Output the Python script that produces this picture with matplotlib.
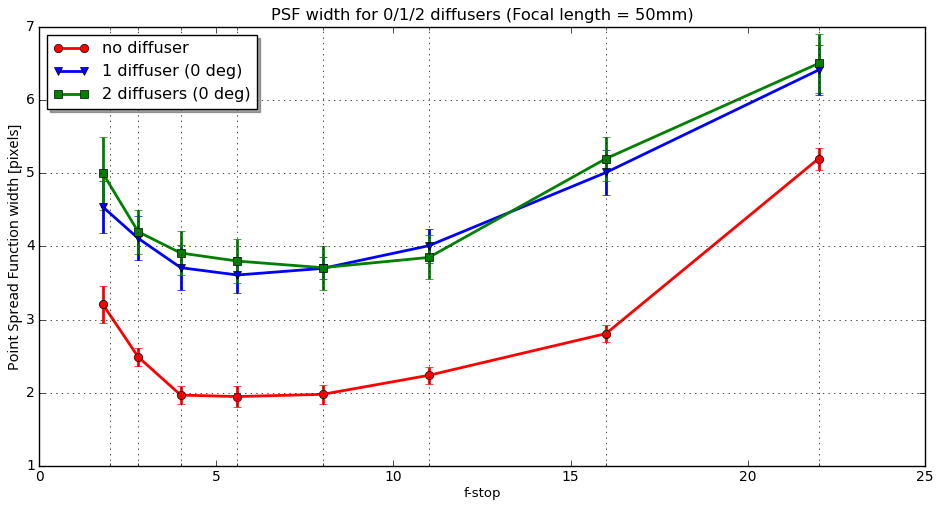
import matplotlib
matplotlib.use('Agg')
import matplotlib.pyplot as plt

# f-stops measured and where the grid lines go
fstops = [1.8, 2.8, 4, 5.6, 8, 11, 16, 22]
grid_fstops = [2, 2.8, 4, 5.6, 8, 11, 16, 22]

# PSF width [pixels] and error bars
no_diff = [3.21, 2.49, 1.97, 1.95, 1.98, 2.24, 2.81, 5.20]
no_diff_err = [0.25, 0.125, 0.12, 0.14, 0.13, 0.12, 0.12, 0.15]

one_diff = [4.54, 4.11, 3.71, 3.61, 3.70, 4.01, 5.01, 6.41]
one_diff_err = [0.35, 0.30, 0.31, 0.25, 0.15, 0.23, 0.31, 0.34]

two_diff = [5.00, 4.20, 3.91, 3.80, 3.71, 3.85, 5.20, 6.50]
two_diff_err = [0.50, 0.30, 0.30, 0.30, 0.30, 0.30, 0.30, 0.40]

plt.style.use('classic')
plt.rcParams['font.family'] = ['DejaVu Sans']

fig = plt.figure(figsize=(9.38, 5.05), dpi=100, facecolor='white')
ax = fig.add_axes([0.0416, 0.077, 0.9445, 0.870])

series = [
    (no_diff, no_diff_err, 'o-', 'red', 'no diffuser'),
    (one_diff, one_diff_err, 'v-', 'blue', '1 diffuser (0 deg)'),
    (two_diff, two_diff_err, 's-', 'green', '2 diffusers (0 deg)'),
]
handles = []
for vals, errs, fmt, col, lab in series:
    eb = ax.errorbar(fstops, vals, yerr=errs, fmt=fmt, color=col,
                     mec='black', lw=2, capsize=3, ms=6, label=lab)
    handles.append(eb[0])

ax.set_xlim(0, 25)
ax.set_ylim(1, 7)
ax.set_xticks(grid_fstops, minor=True)
ax.yaxis.grid(True, which='major')
ax.xaxis.grid(True, which='minor')
ax.xaxis.grid(False, which='major')
ax.tick_params(labelsize=10, pad=3)

ax.set_title('PSF width for 0/1/2 diffusers (Focal length = 50mm)', fontsize=11.7)
ax.set_xlabel('f-stop', fontsize=9.5, labelpad=2)
ax.set_ylabel('Point Spread Function width [pixels]', fontsize=10.5,
              family='Noto Sans', labelpad=2)

leg = ax.legend(handles, [s[4] for s in series], loc='upper left',
                shadow=True, fontsize=11.6, numpoints=2,
                handlelength=2.2, labelspacing=0.5, borderaxespad=0.5)

fig.savefig('out.png', dpi=100, facecolor='white')
